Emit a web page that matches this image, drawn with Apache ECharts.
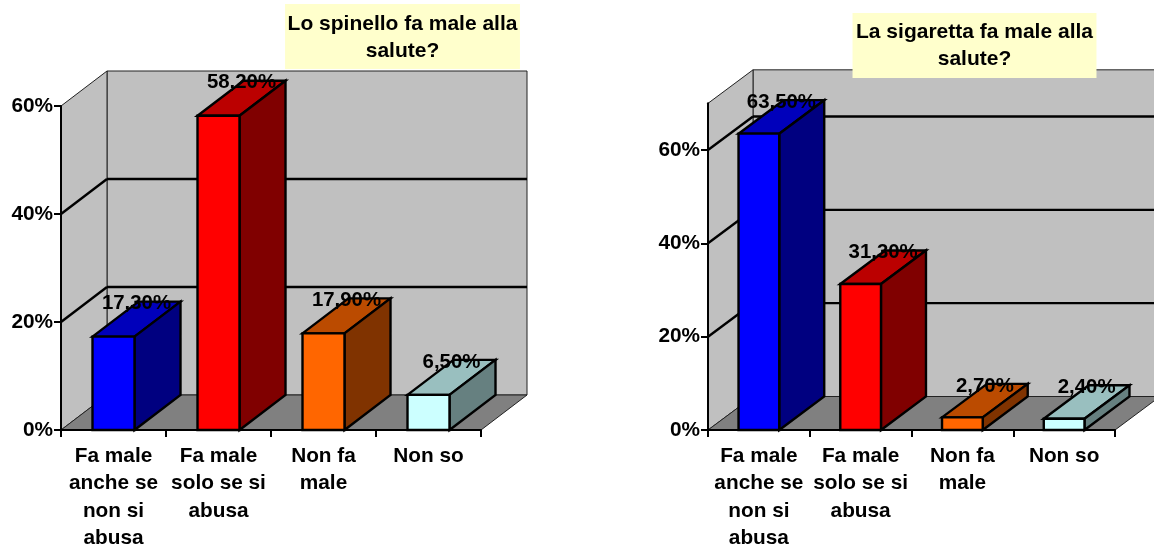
<!DOCTYPE html>
<html>
<head>
<meta charset="utf-8">
<style>
  html, body { margin: 0; padding: 0; background: #fff; }
  #chart { width: 1154px; height: 546px; }
</style>
</head>
<body>
<div id="chart"></div>
<script src="https://cdn.jsdelivr.net/npm/echarts@6/dist/echarts.min.js"></script>
<script>
const categories = ["Fa male\nanche se\nnon si\nabusa", "Fa male\nsolo se si\nabusa", "Non fa\nmale", "Non so"];
const spinelloValues = [17.3, 58.2, 17.9, 6.5];
const sigarettaValues = [63.5, 31.3, 2.7, 2.4];
const spinelloTicks = [0, 20, 40, 60];
const sigarettaTicks = [0, 20, 40, 60];
const spinelloGridLines = [20, 40];
const sigarettaGridLines = [20, 40, 60];

const fontName = '"Liberation Sans", Arial, sans-serif';
// front, top, side of each bar
const barColors = [
  ["#0000ff", "#0000bb", "#000080"],
  ["#ff0000", "#bb0000", "#800000"],
  ["#ff6600", "#bb4b00", "#803300"],
  ["#ccffff", "#99bfbf", "#668080"],
];

const polygon = (points, fill, lineWidth, stroke) => ({
  type: "polygon",
  shape: { points },
  style: { fill, stroke: stroke || "#000", lineWidth },
});

const line = (x1, y1, x2, y2, lineWidth) => ({
  type: "line",
  shape: { x1, y1, x2, y2 },
  style: { stroke: "#000", lineWidth },
});

// back wall, side wall and floor of the 3D box
const wallSeries = (index, dx, dy) => ({
  type: "custom",
  xAxisIndex: index,
  yAxisIndex: index,
  z: 1,
  silent: true,
  data: [[0, 0]],
  renderItem: (params) => {
    const g = params.coordSys;
    const r = g.x + g.width;
    const b = g.y + g.height;
    return {
      type: "group",
      children: [
        polygon([[g.x + dx, g.y - dy], [r + dx, g.y - dy], [r + dx, b - dy], [g.x + dx, b - dy]], "#c0c0c0", 1, "#222"),
        polygon([[g.x, g.y], [g.x + dx, g.y - dy], [g.x + dx, b - dy], [g.x, b]], "#c0c0c0", 1, "#222"),
        polygon([[g.x, b], [g.x + dx, b - dy], [r + dx, b - dy], [r, b]], "#808080", 1, "#222"),
      ],
    };
  },
});

const gridLineSeries = (index, values, dx, dy) => ({
  type: "custom",
  xAxisIndex: index,
  yAxisIndex: index,
  z: 1,
  silent: true,
  data: values.map((v) => [0, v]),
  renderItem: (params, api) => {
    const g = params.coordSys;
    const y = api.coord([0, api.value(1)])[1];
    return {
      type: "group",
      children: [
        line(g.x, y, g.x + dx, y - dy, 2.4),
        line(g.x + dx, y - dy, g.x + g.width + dx, y - dy, 2.4),
      ],
    };
  },
});

const barSeries = (index, values, dx, dy) => ({
  type: "custom",
  xAxisIndex: index,
  yAxisIndex: index,
  z: 3,
  silent: true,
  encode: { x: 0, y: 1 },
  data: values.map((v, i) => [i, v]),
  renderItem: (params, api) => {
    const i = api.value(0);
    const v = api.value(1);
    const top = api.coord([i, v]);
    const base = api.coord([i, 0]);
    const w = api.size([1, 0])[0] * 0.4;
    const l = top[0] - w / 2;
    const r = top[0] + w / 2;
    const colors = barColors[i];
    return {
      type: "group",
      children: [
        polygon([[l, top[1]], [l + dx, top[1] - dy], [r + dx, top[1] - dy], [r, top[1]]], colors[1], 2.4),
        polygon([[r, top[1]], [r + dx, top[1] - dy], [r + dx, base[1] - dy], [r, base[1]]], colors[2], 2.4),
        polygon([[l, top[1]], [r, top[1]], [r, base[1]], [l, base[1]]], colors[0], 2.4),
        {
          type: "text",
          z2: 20,
          style: {
            text: v.toFixed(2).replace(".", ",") + "%",
            x: top[0] + dx / 2,
            y: top[1] - dy + 2,
            align: "center",
            verticalAlign: "middle",
            fill: "#000",
            font: "bold 20.4px " + fontName,
          },
        },
      ],
    };
  },
});

const xAxis = (gridIndex) => ({
  type: "category",
  gridIndex,
  data: categories,
  z: 2,
  axisLine: { lineStyle: { color: "#000", width: 2 } },
  axisTick: { show: true, length: 7, alignWithLabel: false, lineStyle: { color: "#000", width: 2 } },
  axisLabel: {
    interval: 0,
    margin: 12,
    color: "#000",
    fontFamily: fontName,
    fontWeight: "bold",
    fontSize: 20.8,
    lineHeight: 27.6,
    verticalAlign: "top",
  },
});

const yAxis = (gridIndex, max, ticks) => ({
  type: "value",
  gridIndex,
  min: 0,
  max,
  z: 2,
  splitLine: { show: false },
  axisLine: { show: true, lineStyle: { color: "#000", width: 2 } },
  axisTick: { show: true, length: 7, customValues: ticks, lineStyle: { color: "#000", width: 2 } },
  axisLabel: {
    customValues: ticks,
    margin: 8,
    padding: [3, 0, 0, 0],
    color: "#000",
    fontFamily: fontName,
    fontWeight: "bold",
    fontSize: 20.8,
    formatter: "{value}%",
  },
});

const title = (text, left, top, padX, padTop) => ({
  text,
  left,
  top,
  textAlign: "center",
  backgroundColor: "#ffffcc",
  padding: [padTop, padX, 11 - padTop, padX],
  textStyle: {
    color: "#000",
    fontFamily: fontName,
    fontWeight: "bold",
    fontSize: 21,
    lineHeight: 27,
  },
});

const chart = echarts.init(document.getElementById("chart"));
chart.setOption({
  animation: false,
  backgroundColor: "#fff",
  title: [
    title("Lo spinello fa male alla\nsalute?", 400, 4, 2.5, 7),
    title("La sigaretta fa male alla\nsalute?", 971, 13, 3.5, 6),
  ],
  grid: [
    { left: 61, top: 106, width: 420, height: 324, outerBoundsMode: "none" },
    { left: 708, top: 103.33, width: 407, height: 326.67, outerBoundsMode: "none" },
  ],
  xAxis: [xAxis(0), xAxis(1)],
  yAxis: [yAxis(0, 60, spinelloTicks), yAxis(1, 70, sigarettaTicks)],
  series: [
    wallSeries(0, 46, 35),
    gridLineSeries(0, spinelloGridLines, 46, 35),
    barSeries(0, spinelloValues, 46, 35),
    wallSeries(1, 45, 33.5),
    gridLineSeries(1, sigarettaGridLines, 45, 33.5),
    barSeries(1, sigarettaValues, 45, 33.5),
  ],
});
</script>
</body>
</html>
